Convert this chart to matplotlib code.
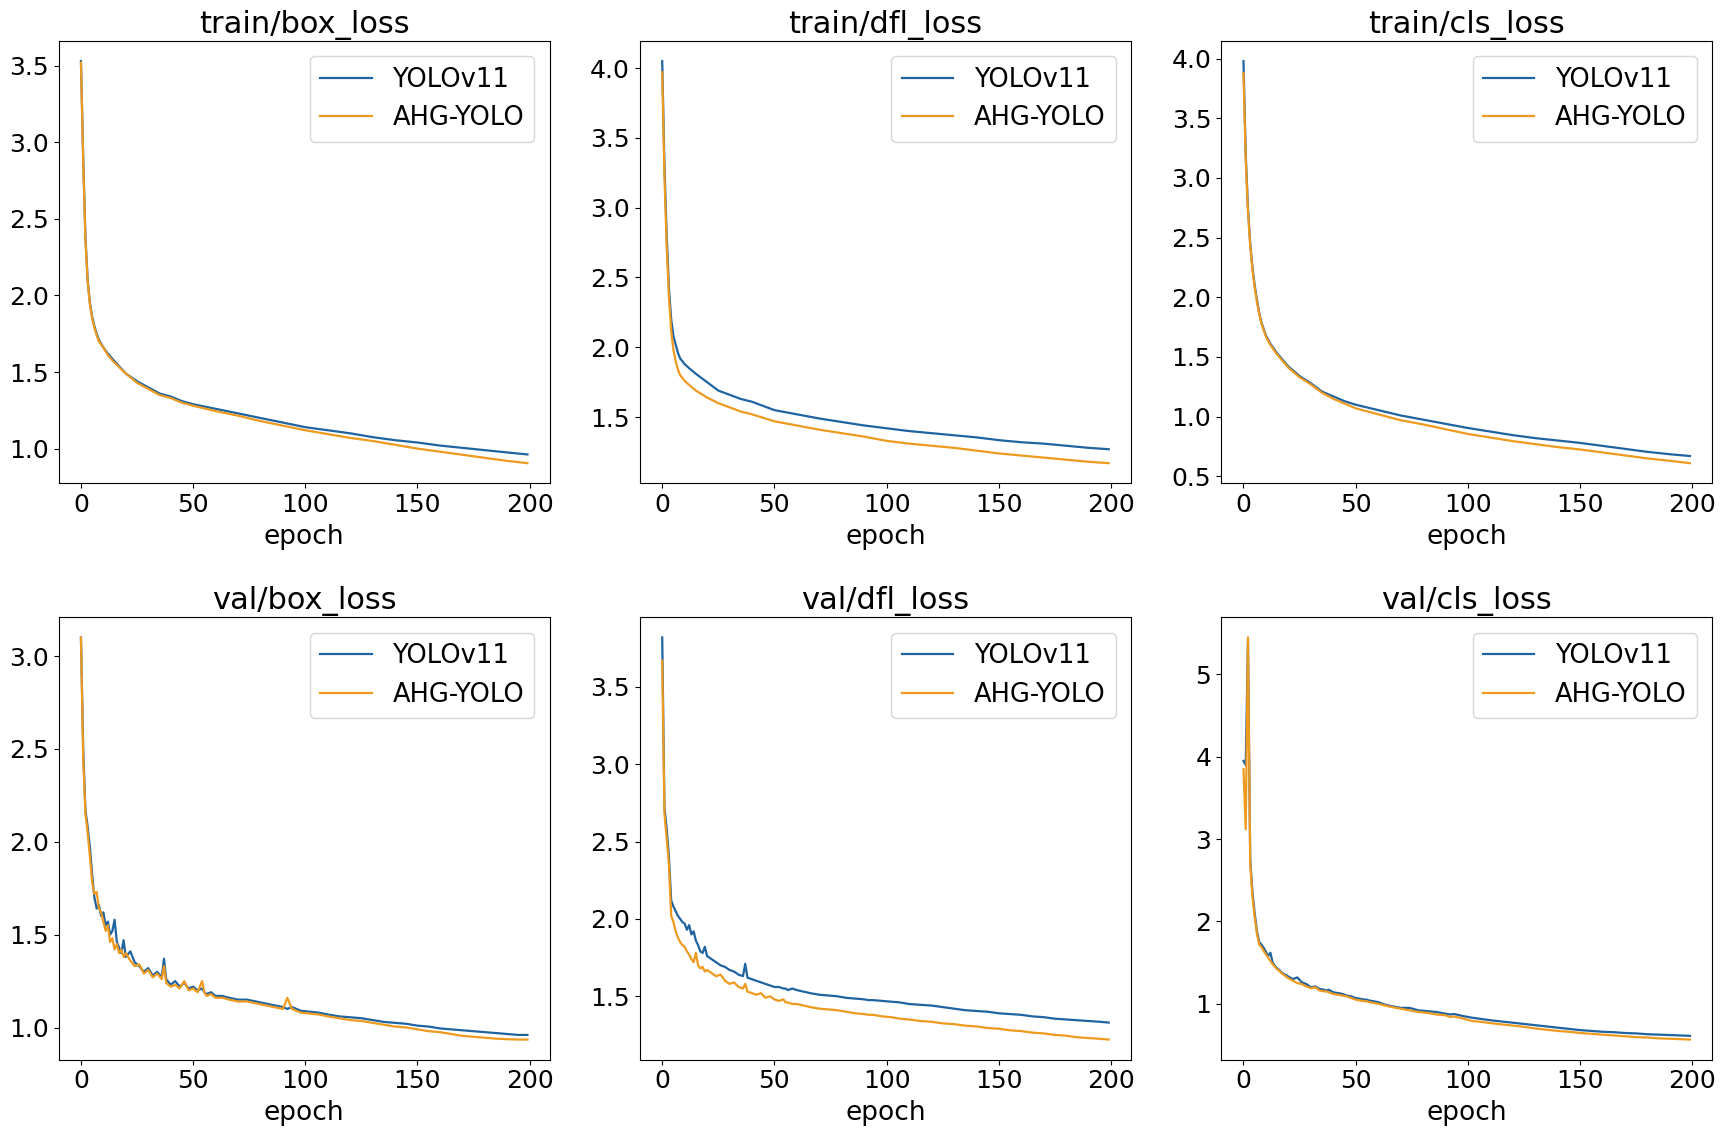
import matplotlib
matplotlib.use("Agg")
import matplotlib.pyplot as plt

epochs_train = [0, 1, 2, 3, 4, 5, 6, 7, 8, 10, 12, 15, 20, 25, 30, 35, 40, 45, 50,
                60, 70, 80, 90, 100, 110, 120, 130, 140, 150, 160, 170, 180, 190, 199]

epochs_val = [0, 1, 2, 3, 4, 5, 6, 7, 8, 9, 10, 11, 12, 13, 14, 15, 16, 17, 18, 19, 20,
              22, 24, 26, 28, 30, 32, 34, 36, 37, 38, 40,
              42, 44, 46, 48, 50,
              52, 54, 55, 56, 58, 60,
              63, 66, 70, 74, 78,
              82, 86, 90, 92, 94, 98,
              102, 106, 110, 115, 120,
              125, 130, 135, 140, 145, 150,
              155, 160, 165, 170, 175, 180, 185, 190, 195, 199]

# train losses
train_box_yolo = [3.53, 2.90, 2.38, 2.10, 1.95, 1.86, 1.80, 1.75, 1.71, 1.66, 1.62, 1.57, 1.49, 1.44, 1.40, 1.36, 1.34, 1.31, 1.29,
                  1.26, 1.23, 1.20, 1.17, 1.14, 1.12, 1.10, 1.075, 1.055, 1.04, 1.02, 1.005, 0.99, 0.975, 0.962]
train_box_ahg = [3.52, 2.88, 2.36, 2.09, 1.94, 1.85, 1.79, 1.74, 1.70, 1.66, 1.61, 1.56, 1.49, 1.43, 1.39, 1.35, 1.33, 1.30, 1.28,
                 1.245, 1.215, 1.18, 1.15, 1.12, 1.095, 1.07, 1.05, 1.025, 1.00, 0.98, 0.96, 0.94, 0.92, 0.905]

train_dfl_yolo = [4.05, 3.30, 2.80, 2.42, 2.20, 2.08, 2.02, 1.96, 1.92, 1.88, 1.85, 1.81, 1.75, 1.69, 1.66, 1.63, 1.61, 1.58, 1.55,
                  1.52, 1.49, 1.465, 1.44, 1.42, 1.40, 1.385, 1.37, 1.355, 1.335, 1.32, 1.31, 1.295, 1.28, 1.27]
train_dfl_ahg = [3.97, 3.22, 2.72, 2.36, 2.12, 1.98, 1.90, 1.84, 1.80, 1.76, 1.73, 1.69, 1.64, 1.60, 1.57, 1.54, 1.52, 1.495, 1.47,
                 1.44, 1.41, 1.385, 1.36, 1.33, 1.31, 1.295, 1.28, 1.26, 1.24, 1.225, 1.21, 1.195, 1.18, 1.17]

train_cls_yolo = [3.98, 3.20, 2.75, 2.45, 2.25, 2.10, 1.98, 1.87, 1.79, 1.68, 1.61, 1.53, 1.42, 1.34, 1.28, 1.21, 1.17, 1.13, 1.10,
                  1.055, 1.01, 0.975, 0.94, 0.905, 0.875, 0.845, 0.82, 0.80, 0.78, 0.755, 0.73, 0.705, 0.685, 0.67]
train_cls_ahg = [3.88, 3.15, 2.72, 2.43, 2.23, 2.08, 1.96, 1.86, 1.78, 1.67, 1.60, 1.52, 1.41, 1.33, 1.27, 1.20, 1.15, 1.11, 1.07,
                 1.02, 0.97, 0.935, 0.895, 0.855, 0.825, 0.795, 0.77, 0.745, 0.725, 0.70, 0.675, 0.65, 0.63, 0.61]

# val losses
val_box_yolo = [3.10, 2.50, 2.17, 2.08, 1.97, 1.82, 1.70, 1.64, 1.66, 1.60, 1.62, 1.55, 1.57, 1.50, 1.52, 1.58, 1.46, 1.43, 1.40, 1.47, 1.38,
                1.41, 1.35, 1.33, 1.30, 1.32, 1.28, 1.30, 1.27, 1.37, 1.26, 1.23,
                1.25, 1.22, 1.24, 1.21, 1.22,
                1.20, 1.21, 1.19, 1.18, 1.19, 1.17,
                1.17, 1.16, 1.15, 1.15, 1.14,
                1.13, 1.12, 1.11, 1.10, 1.11, 1.09,
                1.085, 1.08, 1.07, 1.06, 1.055,
                1.05, 1.04, 1.03, 1.025, 1.02, 1.01,
                1.005, 0.995, 0.99, 0.985, 0.98, 0.975, 0.97, 0.965, 0.96, 0.96]
val_box_ahg = [3.10, 2.45, 2.15, 2.05, 1.92, 1.78, 1.72, 1.73, 1.64, 1.62, 1.57, 1.52, 1.55, 1.46, 1.48, 1.42, 1.45, 1.40, 1.42, 1.38, 1.40,
               1.36, 1.33, 1.34, 1.29, 1.31, 1.27, 1.29, 1.26, 1.33, 1.24, 1.22,
               1.23, 1.21, 1.25, 1.20, 1.21,
               1.19, 1.25, 1.19, 1.17, 1.18, 1.16,
               1.16, 1.15, 1.14, 1.14, 1.13,
               1.12, 1.11, 1.10, 1.16, 1.10, 1.08,
               1.075, 1.07, 1.06, 1.05, 1.04,
               1.035, 1.025, 1.015, 1.005, 1.00, 0.99,
               0.98, 0.975, 0.965, 0.955, 0.95, 0.945, 0.94, 0.937, 0.935, 0.935]

val_dfl_yolo = [3.82, 2.72, 2.58, 2.40, 2.12, 2.08, 2.05, 2.02, 2.00, 1.98, 1.97, 1.93, 1.96, 1.90, 1.92, 1.86, 1.83, 1.79, 1.78, 1.82, 1.76,
                1.74, 1.72, 1.70, 1.69, 1.67, 1.66, 1.64, 1.63, 1.71, 1.62, 1.61,
                1.60, 1.59, 1.58, 1.57, 1.56,
                1.56, 1.55, 1.55, 1.54, 1.55, 1.54,
                1.53, 1.52, 1.51, 1.505, 1.50,
                1.49, 1.485, 1.48, 1.475, 1.475, 1.47,
                1.465, 1.46, 1.45, 1.445, 1.44,
                1.43, 1.42, 1.41, 1.405, 1.40, 1.39,
                1.385, 1.38, 1.37, 1.365, 1.355, 1.35, 1.345, 1.34, 1.335, 1.33]
val_dfl_ahg = [3.67, 2.68, 2.52, 2.35, 2.02, 1.98, 1.92, 1.88, 1.85, 1.83, 1.82, 1.79, 1.77, 1.74, 1.72, 1.78, 1.70, 1.68, 1.69, 1.66, 1.67,
               1.65, 1.63, 1.64, 1.60, 1.58, 1.59, 1.56, 1.55, 1.58, 1.53, 1.52,
               1.51, 1.52, 1.49, 1.50, 1.48,
               1.47, 1.48, 1.46, 1.46, 1.45, 1.45,
               1.44, 1.43, 1.42, 1.415, 1.41,
               1.40, 1.39, 1.385, 1.38, 1.38, 1.37,
               1.365, 1.355, 1.35, 1.34, 1.335,
               1.325, 1.32, 1.31, 1.305, 1.295, 1.29,
               1.28, 1.275, 1.265, 1.26, 1.25, 1.245, 1.235, 1.23, 1.225, 1.22]

val_cls_yolo = [3.95, 3.90, 5.42, 2.75, 2.35, 2.10, 1.88, 1.75, 1.72, 1.68, 1.63, 1.58, 1.62, 1.50, 1.46, 1.43, 1.41, 1.38, 1.36, 1.35, 1.33,
                1.30, 1.32, 1.26, 1.24, 1.20, 1.21, 1.18, 1.17, 1.16, 1.17, 1.14,
                1.13, 1.12, 1.10, 1.09, 1.07,
                1.06, 1.05, 1.05, 1.04, 1.03, 1.02,
                0.99, 0.97, 0.95, 0.95, 0.92,
                0.91, 0.90, 0.88, 0.87, 0.875, 0.85,
                0.83, 0.815, 0.80, 0.785, 0.77,
                0.755, 0.74, 0.725, 0.71, 0.695, 0.68,
                0.67, 0.66, 0.655, 0.645, 0.64, 0.63, 0.625, 0.62, 0.615, 0.61]
val_cls_ahg = [3.85, 3.12, 5.45, 2.70, 2.30, 2.05, 1.85, 1.72, 1.69, 1.64, 1.60, 1.56, 1.52, 1.48, 1.45, 1.42, 1.40, 1.37, 1.35, 1.33, 1.31,
               1.28, 1.25, 1.24, 1.21, 1.19, 1.20, 1.16, 1.15, 1.15, 1.14, 1.12,
               1.11, 1.10, 1.09, 1.07, 1.05,
               1.04, 1.03, 1.03, 1.02, 1.01, 1.00,
               0.98, 0.96, 0.94, 0.92, 0.90,
               0.89, 0.87, 0.86, 0.84, 0.845, 0.82,
               0.79, 0.78, 0.765, 0.75, 0.735,
               0.72, 0.70, 0.685, 0.67, 0.66, 0.645,
               0.635, 0.625, 0.615, 0.605, 0.595, 0.59, 0.58, 0.575, 0.57, 0.565]

titles = ["train/box_loss", "train/dfl_loss", "train/cls_loss",
          "val/box_loss", "val/dfl_loss", "val/cls_loss"]
labels = ["YOLOv11", "AHG-YOLO"]

panels = [
    (epochs_train, train_box_yolo, train_box_ahg),
    (epochs_train, train_dfl_yolo, train_dfl_ahg),
    (epochs_train, train_cls_yolo, train_cls_ahg),
    (epochs_val, val_box_yolo, val_box_ahg),
    (epochs_val, val_dfl_yolo, val_dfl_ahg),
    (epochs_val, val_cls_yolo, val_cls_ahg),
]

c_yolo = "#1f63a0"
c_ahg = "#ee9a1e"

fig, axes = plt.subplots(2, 3, figsize=(17.21, 11.37), dpi=100)
fig.subplots_adjust(left=0.034, right=0.995, top=0.964, bottom=0.068,
                    wspace=0.183, hspace=0.303)

for ax, title, (ep, y1, y2) in zip(axes.flat, titles, panels):
    ax.plot(ep, y1, color=c_yolo, lw=1.6, label=labels[0])
    ax.plot(ep, y2, color=c_ahg, lw=1.6, label=labels[1])
    ax.set_title(title, fontsize=22)
    ax.set_xlabel("epoch", fontsize=19, labelpad=5)
    ax.set_xlim(-10, 209)
    ax.tick_params(labelsize=18)
    ax.legend(loc="upper right", fontsize=18.5, borderaxespad=0.6)

fig.savefig("out.png", dpi=100)
